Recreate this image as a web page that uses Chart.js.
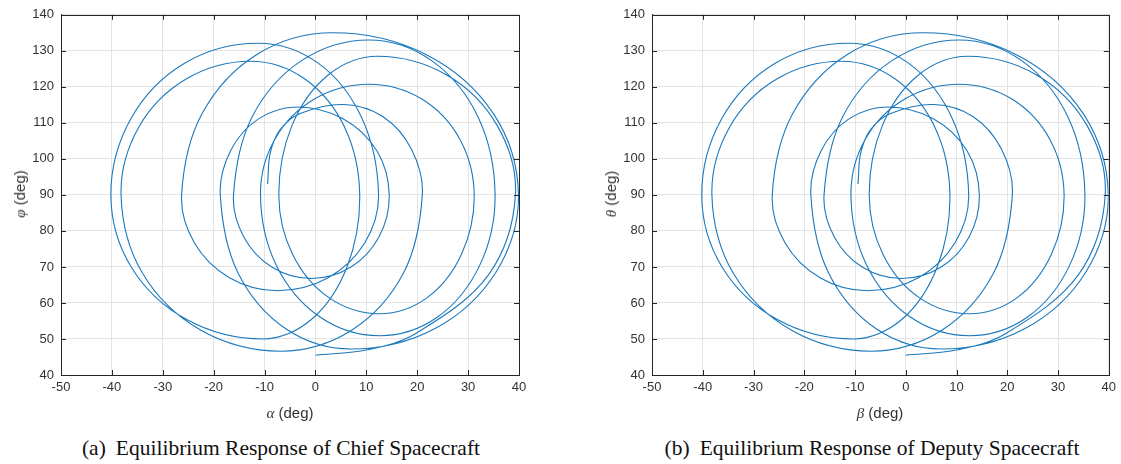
<!DOCTYPE html>
<html>
<head>
<meta charset="utf-8">
<script src="https://cdn.jsdelivr.net/npm/chart.js@4.4.1/dist/chart.umd.min.js"></script>
<style>
  body { margin: 0; background: #fff; width: 1121px; height: 464px; position: relative; overflow: hidden; font-family: "Liberation Sans", Arial, sans-serif; }
  .panel { position: absolute; top: 0; }
  .xt, .yt { position: absolute; font-size: 15px; color: #333; white-space: nowrap; }
  .xt { transform: translate(-50%, -50%); }
  .yt { transform: translate(-50%, -50%) rotate(-90deg); }
  .gk { font-family: "Liberation Serif", "DejaVu Serif", serif; font-style: italic; }
  .cap { position: absolute; top: 436px; transform: translateX(-50%); font-family: "Liberation Serif", serif; font-size: 21.5px; color: #111; white-space: nowrap; }
  .cap span { margin-right: 10px; }
</style>
</head>
<body>
<canvas id="chief" class="panel" style="left:0px" width="545" height="420"></canvas>
<canvas id="deputy" class="panel" style="left:591px" width="530" height="420"></canvas>

<div class="xt" style="left:290px; top:413px"><span class="gk">α</span> (deg)</div>
<div class="yt" style="left:20px; top:194px"><span class="gk">φ</span> (deg)</div>
<div class="cap" style="left:281px"><span>(a)</span>Equilibrium Response of Chief Spacecraft</div>

<div class="xt" style="left:880px; top:413px"><span class="gk">β</span> (deg)</div>
<div class="yt" style="left:611px; top:194px"><span class="gk">θ</span> (deg)</div>
<div class="cap" style="left:872px"><span>(b)</span>Equilibrium Response of Deputy Spacecraft</div>

<script>
// path of the chief response in time order (deg), one row per loop:
// top, right, bottom and left turning points with two points between each
const chiefAlpha = [
  -9.4, -8.9, -7.0, -3.0,
  5.6, 13.3, 18.9, 21.0, 17.3, 7.1, -6.8, -22.5, -34.0, -38.2, -34.8, -25.5,
  -12.7, -2.0, 5.8, 8.7, 6.2, -0.8, -10.3, -25.3, -36.2, -40.2, -36.3, -25.8,
  -11.3, 0.6, 9.2, 12.4, 9.7, 2.5, -7.5, -16.9, -23.8, -26.3, -22.3, -11.5,
  3.4, 21.7, 35.0, 39.9, 35.5, 23.5, 7.0, -5.9, -15.3, -18.7, -16.7, -11.2,
  -3.6, 5.5, 12.1, 14.5, 12.5, 6.9, -0.8, -8.5, -14.1, -16.1, -12.5, -2.8,
  10.5, 22.9, 32.0, 35.3, 32.3, 24.0, 12.6, 0.9, -7.7, -10.8, -8.0, -0.2,
  10.5, 20.9, 28.4, 31.2, 28.7, 21.9, 12.6, 2.7, -4.5, -7.2, -4.6, 2.5,
  12.2, 25.8, 35.7, 39.3, 34.0, 19.7, 10.2, 0.0
];
const chiefPhi = [
  93.0, 101.5, 108.0, 112.6,
  115.1, 111.7, 102.6, 90, 68.3, 52.4, 46.6, 52.4, 68.3, 90, 108.6, 122.1,
  127.1, 122.1, 108.6, 90, 70.0, 55.4, 50.0, 55.4, 70.0, 90, 111.1, 126.5,
  132.1, 126.5, 111.1, 90, 76.7, 67.0, 63.4, 67.0, 76.7, 90, 112.5, 129.0,
  135.0, 129.0, 112.5, 90, 68.6, 52.9, 47.2, 52.9, 68.6, 90, 102.2, 111.1,
  114.4, 111.1, 102.2, 90, 78.4, 69.9, 66.8, 69.9, 78.4, 90, 111.5, 127.2,
  133.0, 127.2, 111.5, 90, 70.5, 56.1, 50.9, 56.1, 70.5, 90, 105.4, 116.6,
  120.7, 116.6, 105.4, 90, 73.5, 61.4, 57.0, 61.4, 73.5, 90, 109.3, 123.3,
  128.5, 123.3, 109.3, 90, 67.8, 51.5, 47.0, 45.5
];

// deputy traces the same path
const deputyBeta = chiefAlpha;
const deputyTheta = chiefPhi;

const xTicks = [-50, 40, 10];   // min, max, step
const yTicks = [40, 140, 10];

// matlab style box with inward tick marks
const boxPlugin = {
  id: 'box',
  afterDraw(chart) {
    const { ctx, chartArea: a, scales } = chart;
    ctx.save();
    ctx.strokeStyle = '#262626';
    ctx.lineWidth = 1;
    ctx.strokeRect(Math.round(a.left) + 0.5, Math.round(a.top) + 0.5, Math.round(a.right - a.left), Math.round(a.bottom - a.top));
    ctx.beginPath();
    scales.x.ticks.forEach(t => {
      const px = Math.round(scales.x.getPixelForValue(t.value)) + 0.5;
      ctx.moveTo(px, a.bottom); ctx.lineTo(px, a.bottom - 5);
      ctx.moveTo(px, a.top); ctx.lineTo(px, a.top + 5);
    });
    scales.y.ticks.forEach(t => {
      const py = Math.round(scales.y.getPixelForValue(t.value)) + 0.5;
      ctx.moveTo(a.left, py); ctx.lineTo(a.left + 5, py);
      ctx.moveTo(a.right, py); ctx.lineTo(a.right - 5, py);
    });
    ctx.stroke();
    ctx.restore();
  }
};

function drawPanel(id, xs, ys, padRight) {
  const pts = xs.map((v, i) => ({ x: v, y: ys[i] }));
  const tickFont = { family: 'Liberation Sans', size: 13 };
  new Chart(document.getElementById(id), {
    type: 'line',
    data: {
      datasets: [{
        data: pts,
        borderColor: '#1a78bd',
        borderWidth: 1.1,
        pointRadius: 0,
        tension: 0.35,
        fill: false
      }]
    },
    options: {
      responsive: false,
      animation: false,
      layout: { padding: { left: 0, right: padRight, top: 13, bottom: 0 } },
      plugins: { legend: { display: false }, tooltip: { enabled: false } },
      scales: {
        x: {
          type: 'linear',
          min: xTicks[0], max: xTicks[1],
          ticks: { stepSize: xTicks[2], color: '#333', font: tickFont, padding: 5, maxRotation: 0 },
          grid: { color: '#e4e4e4', drawTicks: false },
          border: { color: '#262626' },
          afterFit(s) { s.height = 45; }
        },
        y: {
          type: 'linear',
          min: yTicks[0], max: yTicks[1],
          ticks: { stepSize: yTicks[2], color: '#333', font: tickFont, padding: 7 },
          grid: { color: '#e4e4e4', drawTicks: false },
          border: { color: '#262626' },
          afterFit(s) { s.width = 61; }
        }
      }
    },
    plugins: [boxPlugin]
  });
}

drawPanel('chief', chiefAlpha, chiefPhi, 26);
drawPanel('deputy', deputyBeta, deputyTheta, 12);
</script>
</body>
</html>
